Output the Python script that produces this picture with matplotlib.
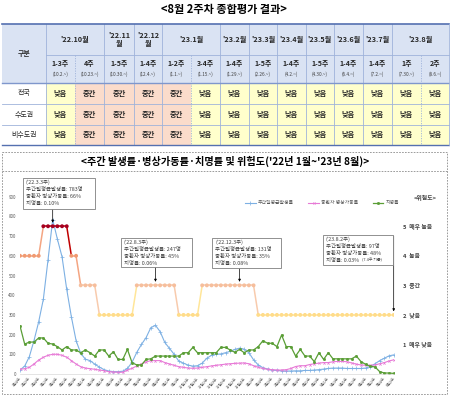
import matplotlib.pyplot as plt
import numpy as np
import pandas as pd
from matplotlib.patches import Rectangle
from matplotlib.transforms import blended_transform_factory

plt.rcParams['font.family'] = ['Noto Sans CJK KR', 'DejaVu Sans']

# ---------------- 종합평가 표 ----------------
month_labels = ["'22.10월", "'22.11\n월", "'22.12\n월", "'23.1월", "'23.2월", "'23.3월",
                "'23.4월", "'23.5월", "'23.6월", "'23.7월", "'23.8월"]
month_spans = [2, 1, 1, 2, 1, 1, 1, 1, 1, 1, 2]
week_labels = ["1-3주", "4주", "1-5주", "1-4주", "1-2주", "3-4주", "1-4주", "1-5주",
               "1-4주", "1-5주", "1-4주", "1-4주", "1주", "2주"]
week_starts = ["(10.2.~)", "(10.23.~)", "(10.30.~)", "(12.4.~)", "(1.1.~)", "(1.15.~)",
               "(1.29.~)", "(2.26.~)", "(4.2.~)", "(4.30.~)", "(6.4.~)", "(7.2.~)",
               "(7.30.~)", "(8.6.~)"]
regions = ["전국", "수도권", "비수도권"]
rating_all = ["낮음", "중간", "중간", "중간", "중간", "낮음", "낮음", "낮음", "낮음", "낮음", "낮음", "낮음", "낮음", "낮음"]
rating_capital = ["낮음", "중간", "중간", "중간", "중간", "낮음", "낮음", "낮음", "낮음", "낮음", "낮음", "낮음", "낮음", "낮음"]
rating_noncapital = ["낮음", "중간", "중간", "중간", "중간", "낮음", "낮음", "낮음", "낮음", "낮음", "낮음", "낮음", "낮음", "낮음"]

# ---------------- 주간 그래프 ('22.1.4주 ~ '23.8.2주) ----------------
first_week = "2022-01-23"
incidence = [20, 40, 88, 170, 265, 380, 580, 783, 685, 595, 430, 290, 170, 105, 75, 68,
             50, 35, 22, 15, 12, 12, 14, 28, 60, 110, 150, 185, 235, 247, 215, 160,
             130, 100, 65, 55, 45, 40, 42, 55, 80, 95, 100, 102, 108, 115, 125, 131,
             126, 108, 72, 46, 32, 25, 20, 18, 16, 15, 15, 16, 16, 18, 18, 20,
             22, 25, 28, 30, 30, 30, 28, 28, 28, 28, 30, 38, 52, 68, 80, 92, 97]
icu_rate = [24, 27, 34, 51, 71, 85, 95, 100, 100, 95, 85, 68, 51, 37, 30, 27,
            24, 20, 17, 12, 10, 9, 9, 20, 29, 41, 51, 61, 68, 68, 68, 58,
            51, 44, 37, 34, 30, 29, 30, 34, 37, 41, 44, 47, 50, 52, 54, 55,
            56, 52, 42, 34, 28, 24, 22, 20, 20, 22, 28, 38, 42, 42, 48, 52,
            55, 58, 58, 62, 64, 64, 62, 56, 50, 46, 44, 44, 46, 52, 58, 66, 72]
fatality = [244, 152, 162, 162, 183, 183, 156, 152, 139, 122, 139, 122, 122, 108, 122, 108,
            91, 122, 122, 91, 113, 74, 74, 125, 57, 46, 46, 74, 77, 91, 91, 91,
            91, 91, 91, 108, 108, 135, 108, 108, 108, 108, 108, 135, 135, 122, 110, 125,
            108, 122, 122, 139, 169, 156, 156, 139, 198, 139, 139, 91, 125, 91, 91, 63,
            108, 74, 108, 77, 77, 77, 77, 77, 91, 63, 49, 39, 36, 12, 5, 5, 3]
risk_level = [4, 4, 4, 4, 4, 5, 5, 5, 5, 5, 5, 4, 4, 3, 3, 3,
              3, 2, 2, 2, 2, 2, 2, 2, 2, 3, 3, 3, 3, 3, 3, 3,
              3, 3, 2, 2, 2, 2, 2, 3, 3, 3, 3, 3, 3, 3, 3, 3,
              3, 3, 3, 2, 2, 2, 2, 2, 2, 2, 2, 2, 2, 2, 2, 2,
              2, 2, 2, 2, 2, 2, 2, 2, 2, 2, 2, 2, 2, 2, 2, 2, 2]
level_names = ["매우 낮음", "낮음", "중간", "높음", "매우 높음"]

notes = [
    (7, ["('22.3.3주)", "주간일평균발생률: 783명", "중환자 병상가동률: 66%", "치명률: 0.10%"]),
    (29, ["('22.8.3주)", "주간일평균발생률: 247명", "중환자 병상가동률: 45%", "치명률: 0.06%"]),
    (47, ["('22.12.3주)", "주간일평균발생률: 131명", "중환자 병상가동률: 35%", "치명률: 0.08%"]),
    (80, ["('23.8.2주)", "주간일평균발생률: 97명", "중환자 병상가동률: 48%", "치명률: 0.03%"]),
]

# x축 주차 이름
weeks = pd.date_range(first_week, periods=len(incidence), freq="7D")
week_names = []
for d in weeks:
    wed = d + pd.Timedelta(days=3)
    week_names.append(f"{wed.month}월{(wed.day - 1) // 7 + 1}주")

fig = plt.figure(figsize=(4.5, 3.95), dpi=100)
bg = fig.add_axes([0, 0, 1, 1])
bg.set_xlim(0, 450)
bg.set_ylim(395, 0)
bg.axis("off")

bg.text(224, 10, "<8월 2주차 종합평가 결과>", ha="center", va="center", fontsize=8, fontweight="bold")

col_x = [2, 46, 75, 104, 134, 162, 191, 220, 249, 277, 306, 334, 363, 392, 421, 449]
row_y = [24, 55, 83, 104, 125, 145]
head_c = "#DAE3F3"
grid_c = "#9FB3DA"
cell_c = {"낮음": "#FFFFCC", "중간": "#FBDCCB"}
txt_c = "#262626"

bg.add_patch(Rectangle((col_x[0], row_y[0]), col_x[-1] - col_x[0], row_y[2] - row_y[0],
                       fc=head_c, ec="none"))
bg.text((col_x[0] + col_x[1]) / 2, (row_y[0] + row_y[2]) / 2, "구분", ha="center", va="center",
        fontsize=5, fontweight="bold", color=txt_c)

c = 0
for lab, span in zip(month_labels, month_spans):
    x0, x1 = col_x[c + 1], col_x[c + 1 + span]
    bg.text((x0 + x1) / 2, 39.5, lab, ha="center", va="center", fontsize=5.2, fontweight="bold",
            color=txt_c, linespacing=1.1)
    bg.plot([x0, x0], [row_y[0], row_y[-1]], color=grid_c, lw=0.6)
    for k in range(1, span):
        xs = col_x[c + 1 + k]
        bg.plot([xs, xs], [row_y[1], row_y[-1]], color=grid_c, lw=0.6, ls=(0, (1.5, 1.5)))
    c += span

for k, (wl, ws) in enumerate(zip(week_labels, week_starts)):
    xc = (col_x[k + 1] + col_x[k + 2]) / 2
    bg.text(xc, 63.5, wl, ha="center", va="center", fontsize=5, fontweight="bold", color=txt_c)
    bg.text(xc, 74, ws, ha="center", va="center", fontsize=3.4, color="#404040")

for r, ratings in enumerate([rating_all, rating_capital, rating_noncapital]):
    y0, y1 = row_y[r + 2], row_y[r + 3]
    bg.text((col_x[0] + col_x[1]) / 2, (y0 + y1) / 2, regions[r], ha="center", va="center",
            fontsize=5, color=txt_c)
    for k, val in enumerate(ratings):
        x0, x1 = col_x[k + 1], col_x[k + 2]
        bg.add_patch(Rectangle((x0 + 0.4, y0 + 0.4), x1 - x0 - 0.8, y1 - y0 - 0.8,
                               fc=cell_c[val], ec="none"))
        bg.text((x0 + x1) / 2, (y0 + y1) / 2, val, ha="center", va="center",
                fontsize=5.2, fontweight="bold", color=txt_c)

bg.plot([col_x[1], col_x[-1]], [row_y[1], row_y[1]], color=grid_c, lw=0.6)
for yy in row_y[3:5]:
    bg.plot([col_x[0], col_x[-1]], [yy, yy], color=grid_c, lw=0.6)
bg.plot([col_x[0], col_x[-1]], [row_y[2], row_y[2]], color="#7F97CC", lw=1.0)
bg.plot([col_x[0], col_x[-1]], [row_y[0], row_y[0]], color="#5470B0", lw=1.2)
bg.plot([col_x[0], col_x[-1]], [row_y[-1], row_y[-1]], color="#5470B0", lw=1.0)
bg.plot([col_x[-1], col_x[-1]], [row_y[0], row_y[-1]], color=grid_c, lw=0.6)

# 그래프 영역 점선 박스
bg.add_patch(Rectangle((2, 152), 445, 242, fill=False, ec="#8C8C8C", lw=0.6, ls=(0, (2, 1.5))))
bg.plot([2, 447], [170.5, 170.5], color="#8C8C8C", lw=0.6, ls=(0, (2, 1.5)))
bg.text(225, 161.5, "<주간 발생률·병상가동률·치명률 및 위험도('22년 1월~'23년 8월)>",
        ha="center", va="center", fontsize=7.3, fontweight="bold")

# ---------------- 그래프 ----------------
ax = fig.add_axes([20 / 450, 21 / 395, 373.7 / 450, 177.3 / 395])
ax.patch.set_alpha(0)
x = np.arange(len(incidence))
ax.plot(x, incidence, color="#7DB0E3", lw=0.8, marker="+", ms=2.2, mew=0.5, label="주간일평균발생률")
ax.plot(x, icu_rate, color="#E77AD6", lw=0.8, marker="x", ms=1.6, mew=0.5, label="중환자 병상가동률")
ax.plot(x, fatality, color="#5A9E36", lw=0.9, marker="s", ms=1.0, label="치명률")
ax.set_xlim(0, len(incidence) - 1)
ax.set_ylim(0, 900)
ax.set_yticks(range(0, 1000, 100))
ax.tick_params(axis="y", length=0, labelsize=3.2, labelcolor="#595959", pad=3)
ax.set_xticks(x[::2])
ax.set_xticklabels(week_names[::2], rotation=45, ha="right", rotation_mode="anchor")
ax.tick_params(axis="x", length=0, labelsize=2.8, labelcolor="#595959", pad=2)
for s in ["top", "right", "left"]:
    ax.spines[s].set_visible(False)
ax.spines["bottom"].set_color("#D9D9D9")
ax.spines["bottom"].set_linewidth(0.5)

# 위험도 (오른쪽 축)
ax2 = ax.twinx()
ax2.set_ylim(0, 6)
line_c = {5: "#C00000", 4: "#F4A582", 3: "#F8CBAD", 2: "#FFE699", 1: "#FFF2CC"}
mark_c = {5: "#A50021", 4: "#F09A72", 3: "#F6BE9C", 2: "#FFDC8A", 1: "#FFE9A8"}
for i in range(len(risk_level) - 1):
    ax2.plot(x[i:i + 2], risk_level[i:i + 2], color=line_c[risk_level[i]], lw=1.1,
             solid_capstyle="round")
ax2.scatter(x, risk_level, s=8, c=[mark_c[v] for v in risk_level], zorder=3, linewidths=0)
ax2.set_yticks(range(1, 6))
ax2.set_yticklabels([f"{k}  {n}" for k, n in zip(range(1, 6), level_names)])
ax2.tick_params(axis="y", length=0, labelsize=4.2, labelcolor="#404040", pad=7)
for t in ax2.get_yticklabels():
    t.set_fontweight("bold")
for s in ax2.spines.values():
    s.set_visible(False)

fig.legend(handles=ax.get_lines(), loc="center", bbox_to_anchor=(322 / 450, 1 - 203 / 395),
           ncol=3, fontsize=3.5, frameon=False, handlelength=2.2, columnspacing=3,
           handletextpad=0.4, labelcolor="#595959")

# 주석 박스 (overlay)
ov = fig.add_axes([0, 0, 1, 1])
ov.set_xlim(0, 450)
ov.set_ylim(395, 0)
ov.axis("off")
ov.text(425, 198, "<위험도>", ha="center", va="center", fontsize=4.2, fontweight="bold", color="#404040")

boxes = [(23, 178, 95, 209), (121, 238, 192, 267), (212, 238, 281, 268), (323, 235, 393, 265)]
tr = blended_transform_factory(ax2.transData, ov.transData)
for (idx, lines), (bx0, by0, bx1, by1) in zip(notes, boxes):
    ov.add_patch(Rectangle((bx0, by0), bx1 - bx0, by1 - by0, fc="white", ec="#7F7F7F", lw=0.6))
    for j, t in enumerate(lines):
        ov.text(bx0 + 3, by0 + 4.5 + j * 7, t, ha="left", va="center", fontsize=3.9, color="#404040")
    start_y = by1 if idx != 80 else by0 + 1
    ax2.annotate("", xy=(idx, risk_level[idx] + 0.12), xycoords="data",
                 xytext=(idx, start_y), textcoords=tr, annotation_clip=False,
                 arrowprops=dict(arrowstyle="-|>", color="black", lw=0.5, mutation_scale=3.5,
                                 shrinkA=0, shrinkB=0))
ov.text(362, 260.5, "(7.4주 기준)", ha="left", va="center", fontsize=2.8, color="#404040")

fig.savefig("out.png", dpi=100)
